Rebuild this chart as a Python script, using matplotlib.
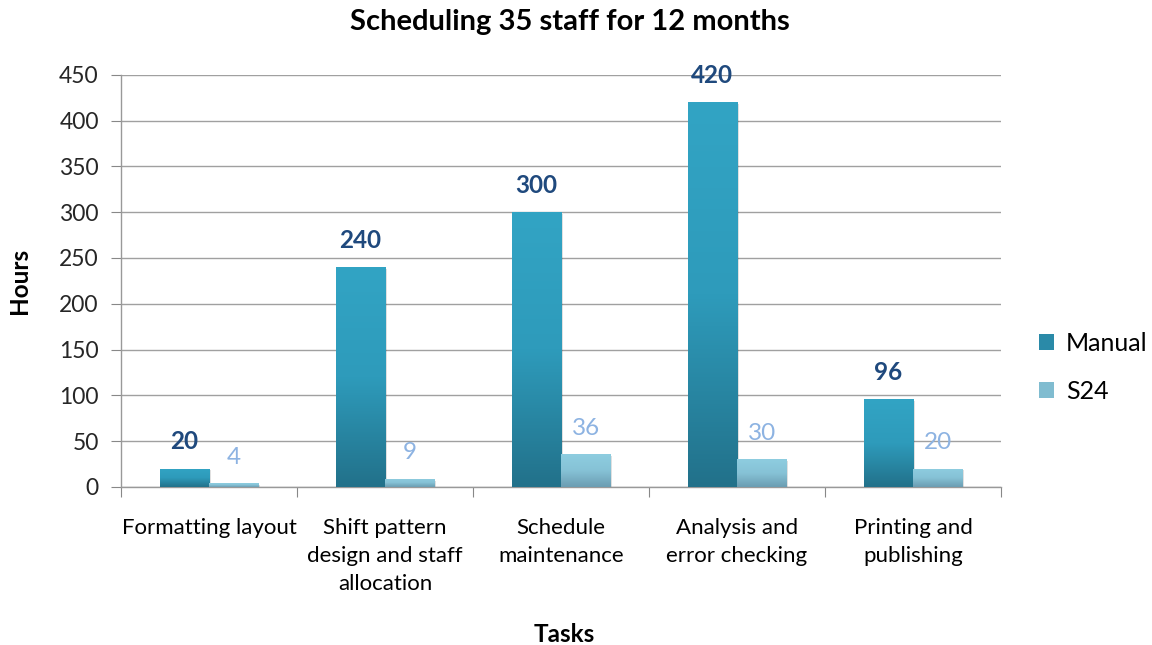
import matplotlib
matplotlib.use("Agg")
import matplotlib.pyplot as plt
import numpy as np
from matplotlib.colors import LinearSegmentedColormap
from matplotlib.patches import Rectangle

categories = ["Formatting layout", "Shift pattern\ndesign and staff\nallocation",
              "Schedule\nmaintenance", "Analysis and\nerror checking", "Printing and\npublishing"]
manual = [20, 240, 300, 420, 96]
s24 = [4, 9, 36, 30, 20]
series_names = ["Manual", "S24"]
yticks = [0, 50, 100, 150, 200, 250, 300, 350, 400, 450]

plt.rcParams['font.family'] = ['Lato', 'DejaVu Sans']

fig = plt.figure(figsize=(11.52, 6.45), dpi=100)
ax = fig.add_axes([0.105, 0.245, 0.764, 0.639])

n = len(categories)
x = np.arange(n)
w = 0.28

cmap_m = LinearSegmentedColormap.from_list("m", ["#22718A", "#2E9BBB", "#32A4C4"])
cmap_s = LinearSegmentedColormap.from_list("s", ["#6B9DB2", "#86C2D6", "#8ECDE0"])
grad = np.linspace(0, 1, 256).reshape(-1, 1)

def gradient_bars(xs, vals, cmap, label):
    bars = ax.bar(xs, vals, w, color=cmap(0.6), label=label, zorder=3)
    for b in bars:
        x0, y0 = b.get_x(), b.get_y()
        bw, bh = b.get_width(), b.get_height()
        sh = Rectangle((x0 + 0.012, y0 - 2), bw, bh, facecolor="#000000", alpha=0.12,
                       edgecolor="none", zorder=2)
        ax.add_patch(sh)
        im = ax.imshow(grad, extent=[x0, x0 + bw, y0, y0 + bh], origin="lower",
                       cmap=cmap, aspect="auto", zorder=3.5)
        im.set_clip_path(b)
        b.set_facecolor("none")
    return bars

gradient_bars(x - w / 2, manual, cmap_m, series_names[0])
gradient_bars(x + w / 2, s24, cmap_s, series_names[1])

for xi, v in zip(x - w / 2, manual):
    ax.annotate(str(v), (xi, v), xytext=(0, 11), textcoords="offset points",
                ha="center", va="bottom", fontsize=17.5, fontweight="bold", color="#1F497D", zorder=5)
for xi, v in zip(x + w / 2, s24):
    ax.annotate(str(v), (xi, v), xytext=(0, 11), textcoords="offset points",
                ha="center", va="bottom", fontsize=17.5, color="#8DB3E2", zorder=5)

ax.set_xlim(-0.5, n - 0.5)
ax.set_ylim(0, 450)
ax.set_yticks(yticks)
ax.set_yticklabels([str(t) for t in yticks], fontsize=16.5, color="#262626")
ax.yaxis.grid(True, color="#A0A0A0", linewidth=1.0, zorder=0)
ax.set_axisbelow(True)

ax.set_xticks(np.arange(-0.5, n, 1.0))
ax.set_xticklabels([])
ax.set_xticks(x, minor=True)
ax.set_xticklabels(categories, minor=True, fontsize=16, color="#000000", linespacing=1.5, va="top")
ax.tick_params(axis="x", which="minor", length=0, pad=22)
ax.tick_params(axis="x", which="major", length=7, color="#888888", direction="out")
ax.tick_params(axis="y", length=7, color="#888888", direction="out", pad=9)

for s in ["top", "right"]:
    ax.spines[s].set_visible(False)
for s in ["left", "bottom"]:
    ax.spines[s].set_color("#999999")
    ax.spines[s].set_linewidth(1.0)

ax.set_ylabel("Hours", fontsize=17.5, fontweight="bold", labelpad=20)
fig.text(0.490, 1 - 635 / 645, "Tasks", ha="center", va="center", fontsize=17.5, fontweight="bold")
fig.text(0.495, 1 - 22 / 645, "Scheduling 35 staff for 12 months", ha="center", va="center",
         fontsize=21, fontweight="bold")

h1 = Rectangle((0, 0), 1, 1, facecolor="#2A8AA8")
h2 = Rectangle((0, 0), 1, 1, facecolor="#80BCD0")
leg = fig.legend([h1, h2], series_names, loc="center left", bbox_to_anchor=(0.882, 0.43),
                 frameon=False, fontsize=18, handlelength=0.6, handleheight=0.6,
                 handletextpad=0.5, labelspacing=1.0)

fig.savefig("out.png", dpi=100)
